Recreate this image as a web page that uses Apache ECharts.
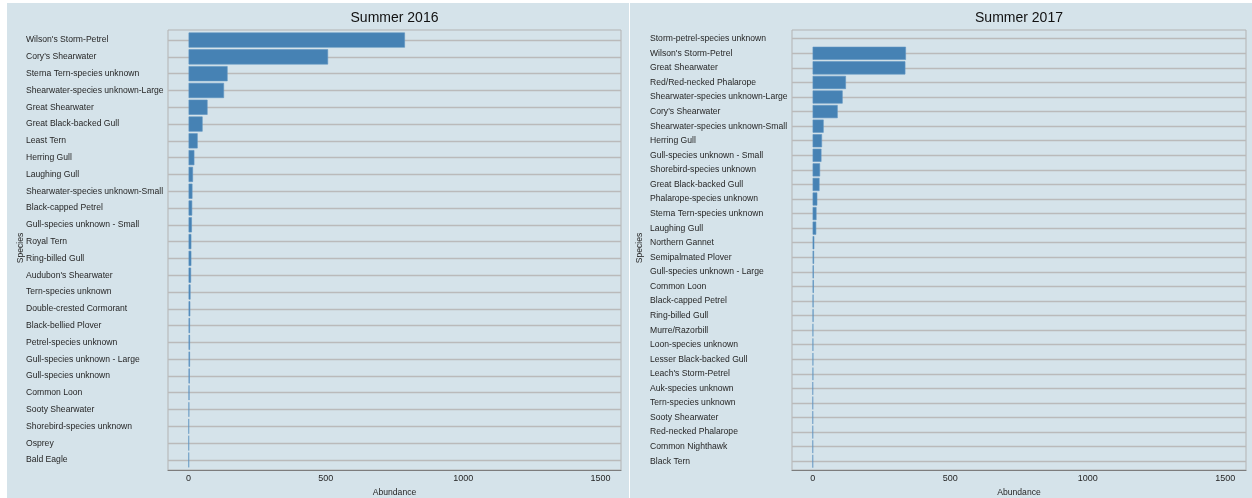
<!DOCTYPE html>
<html>
<head>
<meta charset="utf-8">
<script src="https://cdn.jsdelivr.net/npm/echarts@6/dist/echarts.min.js"></script>
<style>
  html, body { margin: 0; padding: 0; background: #ffffff; }
  #chart { width: 1252px; height: 498px; }
</style>
</head>
<body>
<div id="chart"></div>
<script>
// Summer 2016 seabird counts, most abundant first
const species2016 = [
  "Wilson's Storm-Petrel", "Cory's Shearwater", "Sterna Tern-species unknown",
  "Shearwater-species unknown-Large", "Great Shearwater", "Great Black-backed Gull",
  "Least Tern", "Herring Gull", "Laughing Gull", "Shearwater-species unknown-Small",
  "Black-capped Petrel", "Gull-species unknown - Small", "Royal Tern", "Ring-billed Gull",
  "Audubon's Shearwater", "Tern-species unknown", "Double-crested Cormorant",
  "Black-bellied Plover", "Petrel-species unknown", "Gull-species unknown - Large",
  "Gull-species unknown", "Common Loon", "Sooty Shearwater", "Shorebird-species unknown",
  "Osprey", "Bald Eagle"
];
const abundance2016 = [
  788, 508, 142, 129, 69, 51, 33, 21, 16, 14,
  13, 12, 10, 10, 9, 7, 6, 5, 5, 5,
  4, 3, 2, 1, 1, 1
];

// Summer 2017 seabird counts (no count recorded for the unidentified storm-petrels)
const species2017 = [
  "Storm-petrel-species unknown", "Wilson's Storm-Petrel", "Great Shearwater",
  "Red/Red-necked Phalarope", "Shearwater-species unknown-Large", "Cory's Shearwater",
  "Shearwater-species unknown-Small", "Herring Gull", "Gull-species unknown - Small",
  "Shorebird-species unknown", "Great Black-backed Gull", "Phalarope-species unknown",
  "Sterna Tern-species unknown", "Laughing Gull", "Northern Gannet", "Semipalmated Plover",
  "Gull-species unknown - Large", "Common Loon", "Black-capped Petrel", "Ring-billed Gull",
  "Murre/Razorbill", "Loon-species unknown", "Lesser Black-backed Gull",
  "Leach's Storm-Petrel", "Auk-species unknown", "Tern-species unknown",
  "Sooty Shearwater", "Red-necked Phalarope", "Common Nighthawk", "Black Tern"
];
const abundance2017 = [
  null, 339, 337, 121, 109, 91, 40, 34, 32, 27,
  25, 17, 14, 13, 6, 5, 4, 4, 3, 3,
  2, 2, 2, 2, 1, 1, 1, 1, 1, 1
];

const panelTitles = ["Summer 2016", "Summer 2017"];
const abundanceTicks = [0, 500, 1000, 1500];
const abundanceMin = -75;
const abundanceMax = 1575;

const BG = '#d5e3ea';
const BAR = '#4682b4';
const GRID_LINE = '#bababa';
const FRAME = '#b3b3b3';
const TEXT = '#262626';
const FONT = '"Liberation Sans", Arial, sans-serif';
const LABEL_SIZE = 8.6;

// plot frames (ggplot-style panel areas)
const frames = [
  { x: 168, y: 30, w: 453, h: 440, labelMargin: 142, ytitleX: 21, n: species2016.length },
  { x: 792, y: 30, w: 454, h: 440, labelMargin: 142, ytitleX: 640, n: species2017.length }
];

// category bands: 0.6 band padding top/bottom inside the frame
function gridFor(f) {
  const unit = f.h / (f.n - 1 + 1.2);
  return {
    left: f.x,
    top: f.y + 0.1 * unit,
    width: f.w,
    height: unit * f.n,
    containLabel: false,
    outerBoundsMode: 'none'
  };
}

const datasets = [
  { cats: species2016, vals: abundance2016 },
  { cats: species2017, vals: abundance2017 }
];

const grids = frames.map(gridFor);

const xAxes = frames.map((f, i) => ({
  type: 'value',
  gridIndex: i,
  min: abundanceMin,
  max: abundanceMax,
  offset: (f.y + f.h) - (grids[i].top + grids[i].height),
  axisLine: { show: true, lineStyle: { color: '#7d7d7d', width: 1.2 } },
  axisTick: { show: false },
  splitLine: { show: false },
  axisLabel: {
    customValues: abundanceTicks,
    formatter: v => String(v),
    margin: 4,
    fontSize: 9,
    fontFamily: FONT,
    color: TEXT
  },
  name: 'Abundance',
  nameLocation: 'middle',
  nameGap: 13,
  nameTextStyle: { fontSize: LABEL_SIZE, fontFamily: FONT, color: TEXT }
}));

const yAxes = frames.map((f, i) => ({
  type: 'category',
  gridIndex: i,
  data: datasets[i].cats,
  inverse: true,
  axisLine: { show: false },
  axisTick: { show: false },
  splitLine: { show: false },
  axisLabel: {
    align: 'left',
    margin: f.labelMargin,
    fontSize: LABEL_SIZE,
    fontFamily: FONT,
    color: TEXT,
    interval: 0
  }
}));

const series = [];
datasets.forEach((d, i) => {
  // horizontal guide lines through each category, kept under the bars
  series.push({
    type: 'line',
    xAxisIndex: i,
    yAxisIndex: i,
    data: [],
    z: 1,
    silent: true,
    markLine: {
      z: 1,
      silent: true,
      symbol: ['none', 'none'],
      label: { show: false },
      animation: false,
      lineStyle: { type: 'solid', color: GRID_LINE, width: 1.3 },
      emphasis: { disabled: true },
      data: d.cats.map(c => ({ yAxis: c }))
    }
  });
  series.push({
    type: 'bar',
    xAxisIndex: i,
    yAxisIndex: i,
    data: d.vals,
    z: 10,
    barCategoryGap: '10%',
    itemStyle: { color: BAR, borderColor: '#5e93c1', borderWidth: 0.6 },
    emphasis: { disabled: true }
  });
});

const graphics = [
  { type: 'rect', shape: { x: 7, y: 3, width: 622, height: 495 }, style: { fill: BG }, z: -10, silent: true },
  { type: 'rect', shape: { x: 630, y: 3, width: 622, height: 495 }, style: { fill: BG }, z: -10, silent: true }
];
frames.forEach((f, i) => {
  graphics.push({
    type: 'rect',
    shape: { x: f.x, y: f.y, width: f.w, height: f.h },
    style: { fill: null, stroke: FRAME, lineWidth: 1 },
    z: 0,
    silent: true
  });
  graphics.push({
    type: 'text',
    x: f.x + f.w / 2,
    y: 18,
    style: {
      text: panelTitles[i],
      align: 'center',
      verticalAlign: 'middle',
      font: '14px ' + FONT,
      fill: '#111111'
    },
    silent: true
  });
  graphics.push({
    type: 'text',
    x: f.ytitleX,
    y: f.y + f.h / 2 - 2,
    rotation: Math.PI / 2,
    style: {
      text: 'Species',
      align: 'center',
      verticalAlign: 'middle',
      font: LABEL_SIZE + 'px ' + FONT,
      fill: TEXT
    },
    silent: true
  });
});

const chart = echarts.init(document.getElementById('chart'), null, { renderer: 'canvas' });
chart.setOption({
  backgroundColor: '#ffffff',
  animation: false,
  graphic: graphics,
  grid: grids,
  xAxis: xAxes,
  yAxis: yAxes,
  series: series
});
</script>
</body>
</html>
